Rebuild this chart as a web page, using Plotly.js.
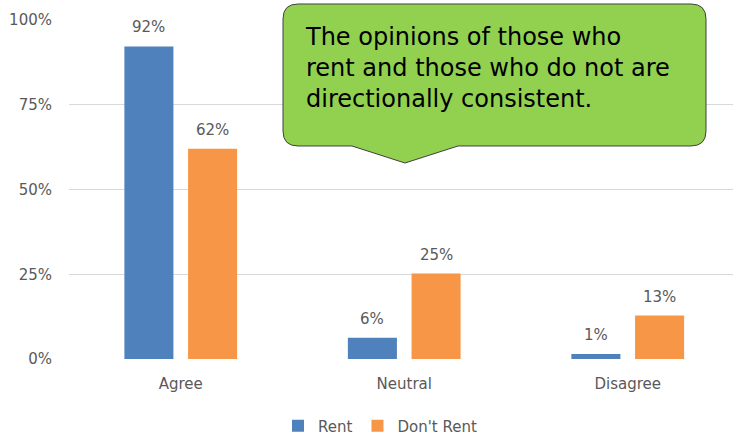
<!DOCTYPE html>
<html>
<head>
<meta charset="utf-8">
<script src="https://cdn.plot.ly/plotly-3.0.1.min.js"></script>
<style>html,body{margin:0;padding:0;background:#fff;}#chart{width:733px;height:436px;}</style>
</head>
<body>
<div id="chart"></div>
<script>
const categories = ["Agree", "Neutral", "Disagree"];
const rentValues = [0.922, 0.063, 0.015];
const dontRentValues = [0.62, 0.252, 0.128];
const rentLabels = ["92%", "6%", "1%"];
const dontRentLabels = ["62%", "25%", "13%"];
const yTickVals = [0, 0.25, 0.5, 0.75, 1];
const yTickText = ["0%", "25%", "50%", "75%", "100%"];
const seriesNames = ["Rent", "Don't Rent"];
const calloutText = "The opinions of those who<br>rent and those who do not are<br>directionally consistent.";

const W = 733, H = 436;
const M = {l: 69, r: 0, t: 20, b: 77, autoexpand: false};
const plotW = W - M.l - M.r, plotH = H - M.t - M.b;
const px = x => (x - M.l) / plotW;
const py = y => (H - M.b - y) / plotH;

const BARGAP = 0.43;
const off = (1 - BARGAP) / 4;
const labelFont = {family: "DejaVu Sans", size: 15, color: "#595959"};

const traces = [
  {type: "bar", name: seriesNames[0], x: categories, y: rentValues,
   marker: {color: "#4F81BD"}, hoverinfo: "skip"},
  {type: "bar", name: seriesNames[1], x: categories, y: dontRentValues,
   marker: {color: "#F79646"}, hoverinfo: "skip"}
];

const annotations = [];
categories.forEach((c, i) => {
  annotations.push({x: i - off, y: rentValues[i], xref: "x", yref: "y", text: rentLabels[i],
    showarrow: false, yanchor: "middle", yshift: 19, font: labelFont});
  annotations.push({x: i + off, y: dontRentValues[i], xref: "x", yref: "y", text: dontRentLabels[i],
    showarrow: false, yanchor: "middle", yshift: 19, font: labelFont});
});
annotations.push({x: px(303), y: py(21), xref: "paper", yref: "paper", xanchor: "left", yanchor: "top",
  align: "left", showarrow: false, text: calloutText,
  font: {family: "DejaVu Sans", size: 24, color: "#000000"}});

// callout shape (rounded rectangle with pointer)
const L = 283, R = 706, T = 4, B = 146, r = 15;
function P(x, y) { return px(x).toFixed(5) + "," + py(y).toFixed(5); }
const path = "M" + P(L + r, T) + " L" + P(R - r, T) + " Q" + P(R, T) + " " + P(R, T + r) +
  " L" + P(R, B - r) + " Q" + P(R, B) + " " + P(R - r, B) +
  " L" + P(458, B) + " L" + P(405, 163) + " L" + P(352, B) +
  " L" + P(L + r, B) + " Q" + P(L, B) + " " + P(L, B - r) +
  " L" + P(L, T + r) + " Q" + P(L, T) + " " + P(L + r, T) + " Z";

const layout = {
  width: W, height: H,
  margin: M,
  paper_bgcolor: "#ffffff", plot_bgcolor: "#ffffff",
  barmode: "group", bargap: BARGAP, bargroupgap: 0.23,
  showlegend: true,
  legend: {orientation: "h", x: px(278), xanchor: "left", y: py(426), yanchor: "middle",
    itemwidth: 30, font: labelFont, bgcolor: "rgba(0,0,0,0)", itemclick: false, traceorder: "normal"},
  xaxis: {type: "category", range: [-0.5, 2.471], showgrid: false, zeroline: false, showline: false,
    ticks: "", tickfont: labelFont, ticklabelstandoff: 14, fixedrange: true, automargin: false},
  yaxis: {range: [0, 1], tickvals: yTickVals, ticktext: yTickText, showgrid: true, gridcolor: "#D9D9D9",
    gridwidth: 1, zeroline: false, showline: false, ticks: "", tickfont: labelFont,
    ticklabelstandoff: 16, fixedrange: true, automargin: false},
  shapes: [{type: "path", xref: "paper", yref: "paper", path: path, fillcolor: "#92D050",
    line: {color: "#404040", width: 1}, layer: "above"}],
  annotations: annotations
};

Plotly.newPlot("chart", traces, layout, {displayModeBar: false, staticPlot: true});
</script>
</body>
</html>
